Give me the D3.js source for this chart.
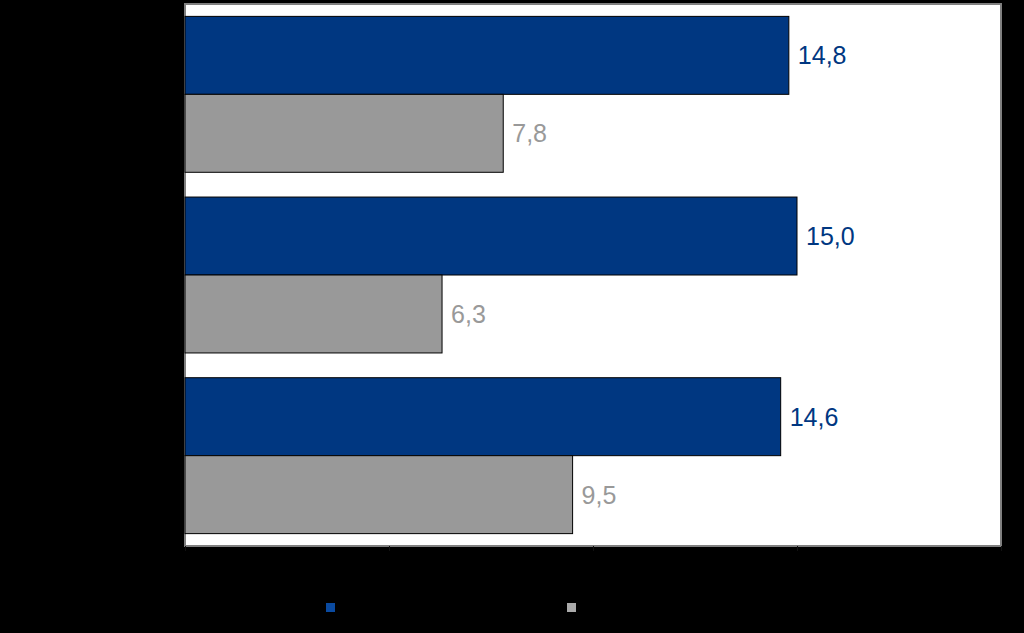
<!DOCTYPE html>
<html><head><meta charset="utf-8">
<script src="https://cdn.jsdelivr.net/npm/d3@7"></script>
<style>html,body{margin:0;padding:0;background:#000;}svg{display:block;}</style>
</head><body>
<svg id="c" width="1024" height="633"></svg>
<script>
const categories = ["A", "B", "C"];
const seriesNames = ["Series 1", "Series 2"];
const series1 = [14.8, 15.0, 14.6];
const series2 = [7.8, 6.3, 9.5];
const xTicks = [0, 5, 10, 15, 20];
const colors = ["#003781", "#999999"];

const svg = d3.select("#c");
const W = 1024, H = 633;
svg.append("rect").attr("width", W).attr("height", H).attr("fill", "#000");

const m = {left: 185, top: 4, right: 1001, bottom: 546};
const x = d3.scaleLinear().domain([0, 20]).range([m.left, m.right]);
const y = d3.scaleBand().domain(categories).range([m.top, m.bottom]).paddingInner(0.137).paddingOuter(0.0685);
const ys = d3.scaleBand().domain(seriesNames).range([0, y.bandwidth()]);

svg.append("rect").attr("x", m.left).attr("y", m.top)
  .attr("width", m.right - m.left).attr("height", m.bottom - m.top)
  .attr("fill", "#fff").attr("stroke", "#808080").attr("stroke-width", 2);

const data = categories.map((c, i) => ({c, vals: [series1[i], series2[i]]}));
const g = svg.append("g");
data.forEach(d => {
  d.vals.forEach((v, j) => {
    const yy = y(d.c) + ys(seriesNames[j]);
    g.append("rect").attr("x", x(0)).attr("y", yy)
      .attr("width", x(v) - x(0)).attr("height", ys.bandwidth())
      .attr("fill", colors[j]).attr("stroke", "#000").attr("stroke-width", 1);
    g.append("text").attr("x", x(v) + 9).attr("y", yy + ys.bandwidth() / 2)
      .attr("dominant-baseline", "central")
      .attr("font-family", "Liberation Sans, Arial, sans-serif").attr("font-size", 25)
      .attr("fill", colors[j]).text(d3.format(".1f")(v).replace(".", ","));
  });
});

// x axis ticks (labels black on black as in reference)
const xa = svg.append("g").attr("transform", `translate(0,${m.bottom})`)
  .call(d3.axisBottom(x).tickValues(xTicks).tickSize(5).tickFormat(d => d));
xa.select(".domain").remove();
xa.selectAll("line").attr("stroke", "#111");
xa.selectAll("text").attr("fill", "#000").attr("font-size", 16).attr("font-family", "Liberation Sans, Arial, sans-serif");

// y axis category labels (black on black)
svg.append("g").selectAll("text").data(categories).join("text")
  .attr("x", m.left - 10).attr("y", d => y(d) + y.bandwidth() / 2)
  .attr("text-anchor", "end").attr("dominant-baseline", "central")
  .attr("fill", "#000").attr("font-size", 16).text(d => d);

// legend
const legX = [326, 567];
const lg = svg.append("g");
seriesNames.forEach((s, j) => {
  lg.append("rect").attr("x", legX[j]).attr("y", 603).attr("width", 9).attr("height", 9)
    .attr("fill", colors[j] === "#999999" ? "#aaaaaa" : "#0a4aa0");
  lg.append("text").attr("x", legX[j] + 16).attr("y", 608).attr("dominant-baseline", "central")
    .attr("fill", "#000").attr("font-size", 16).text(s);
});
</script>
</body></html>
